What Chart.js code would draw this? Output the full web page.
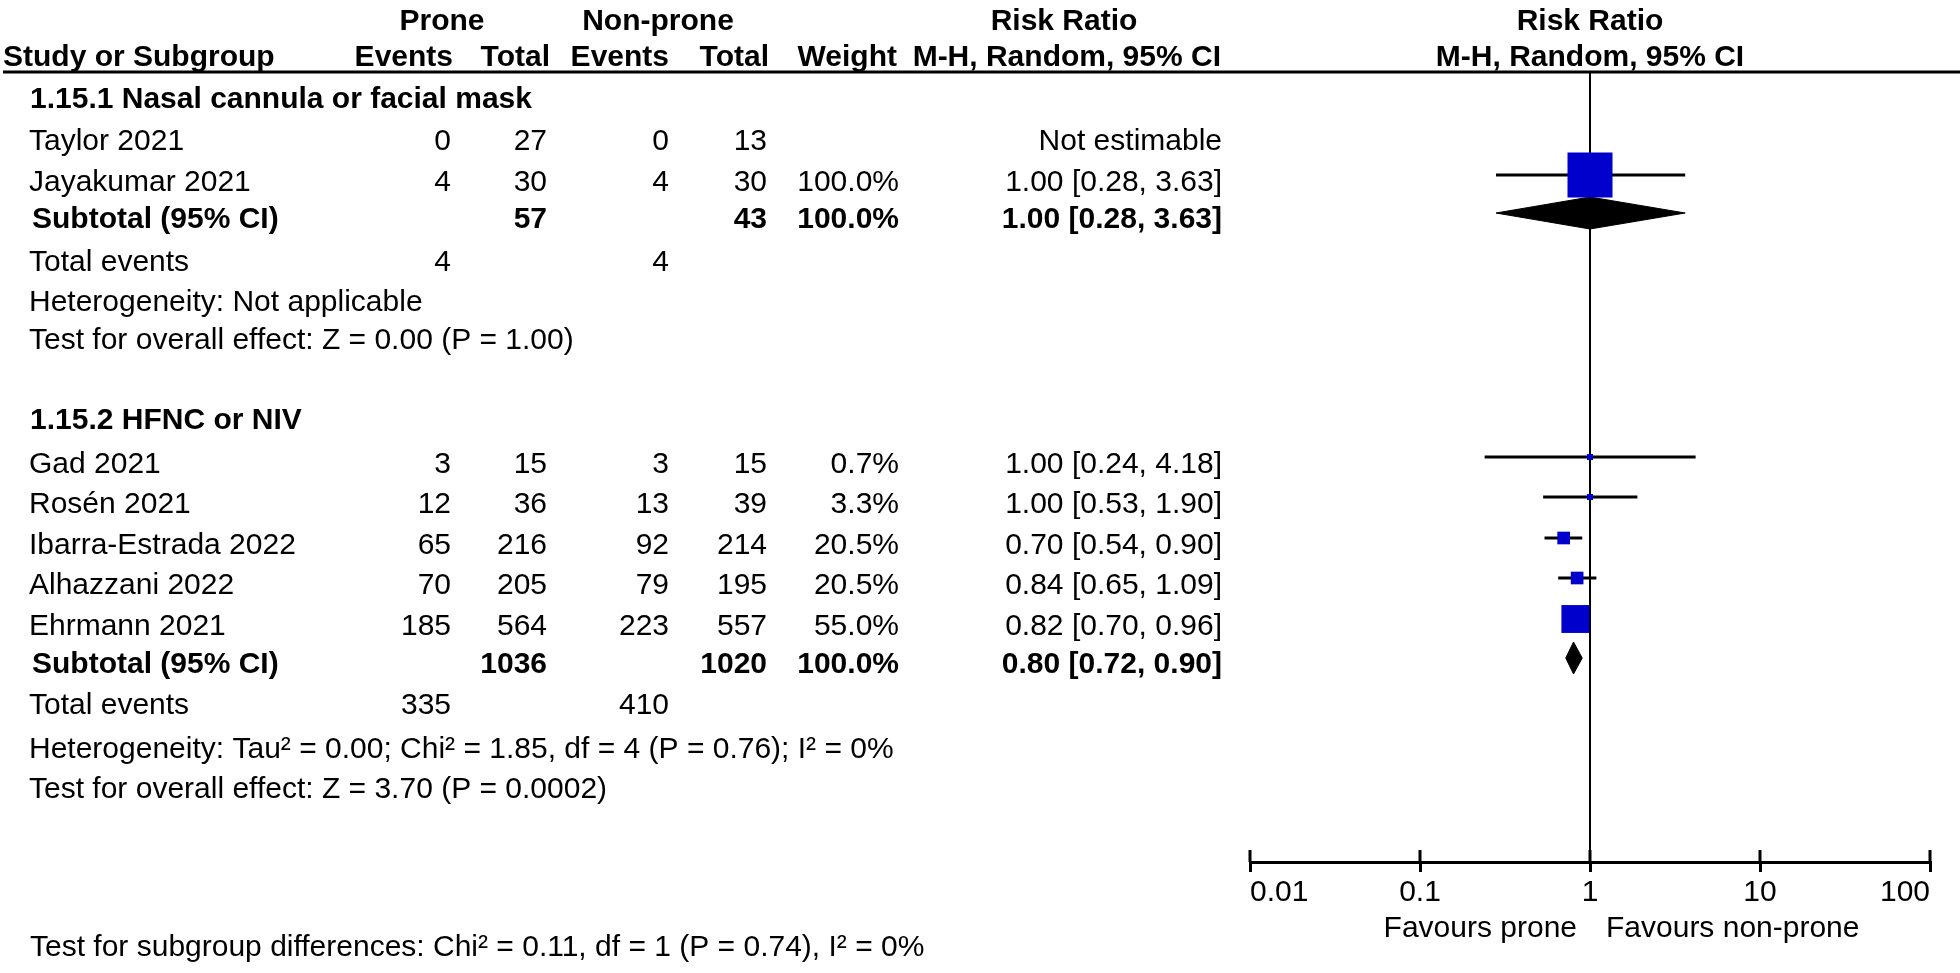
<!DOCTYPE html>
<html>
<head>
<meta charset="utf-8">
<script src="https://cdn.jsdelivr.net/npm/chart.js@4.4.1/dist/chart.umd.min.js"></script>
<style>
  html, body { margin: 0; padding: 0; background: #fff; overflow: hidden; }
  canvas { display: block; }
</style>
</head>
<body>
<canvas id="c" width="1960" height="973"></canvas>
<script>
// ---------------- DATA ----------------
const subgroupNames = ["1.15.1 Nasal cannula or facial mask", "1.15.2 HFNC or NIV"];
const studies = ["Taylor 2021", "Jayakumar 2021", "Gad 2021", "Rosén 2021", "Ibarra-Estrada 2022", "Alhazzani 2022", "Ehrmann 2021"];
const studyGroup = [0, 0, 1, 1, 1, 1, 1];
const proneEvents = [0, 4, 3, 12, 65, 70, 185];
const proneTotal = [27, 30, 15, 36, 216, 205, 564];
const nonProneEvents = [0, 4, 3, 13, 92, 79, 223];
const nonProneTotal = [13, 30, 15, 39, 214, 195, 557];
const weights = [null, 100.0, 0.7, 3.3, 20.5, 20.5, 55.0];
const riskRatio = [null, 1.00, 1.00, 1.00, 0.70, 0.84, 0.82];
const ciLow = [null, 0.28, 0.24, 0.53, 0.54, 0.65, 0.70];
const ciHigh = [null, 3.63, 4.18, 1.90, 0.90, 1.09, 0.96];

const subTotalProne = [57, 1036];
const subTotalNonProne = [43, 1020];
const subWeight = [100.0, 100.0];
const subRR = [1.00, 0.80];
const subLow = [0.28, 0.72];
const subHigh = [3.63, 0.90];
const totalEventsProne = [4, 335];
const totalEventsNonProne = [4, 410];
const heterogeneityText = ["Heterogeneity: Not applicable", "Heterogeneity: Tau² = 0.00; Chi² = 1.85, df = 4 (P = 0.76); I² = 0%"];
const overallEffectText = ["Test for overall effect: Z = 0.00 (P = 1.00)", "Test for overall effect: Z = 3.70 (P = 0.0002)"];
const subgroupTestText = "Test for subgroup differences: Chi² = 0.11, df = 1 (P = 0.74), I² = 0%";

const tickValues = [0.01, 0.1, 1, 10, 100];
const tickLabels = ["0.01", "0.1", "1", "10", "100"];
const favourLabels = ["Favours prone", "Favours non-prone"];
const nullEffect = 1;

// ---------------- LAYOUT (positions / styles) ----------------
const FONT = '"Liberation Sans", Arial, Helvetica, sans-serif';
const FS = 30;
const COL = { name: 29, heading: 30, sub: 32, pe: 451, pt: 547, ne: 669, nt: 767, w: 899, ci: 1222 };
const LAYOUT = {
  head1: 22, head2: 58, rule: 72,
  groups: [
    { heading: 100, studies: [142, 183], subtotal: 220, events: 263, het: 303, eff: 341 },
    { heading: 421, studies: [465, 505, 546, 586, 627], subtotal: 665, events: 706, het: 750, eff: 790 }
  ],
  subgroupTest: 948, favours: 929, markShift: -8, diamondShift: -7, axisY: 862
};
const BLUE = '#0000CC';

const studyRowY = [];
{
  const cnt = [0, 0];
  studies.forEach((s, i) => {
    const g = studyGroup[i];
    studyRowY.push(LAYOUT.groups[g].studies[cnt[g]++]);
  });
}
const squareSide = w => Math.max(6, 45 * Math.pow(w / 100, 0.8));

// ---------------- DATASETS ----------------
const datasets = [];
datasets.push({
  type: 'line', order: 5,
  data: [{ x: nullEffect, y: LAYOUT.rule }, { x: nullEffect, y: LAYOUT.axisY }],
  borderColor: '#000', borderWidth: 2, pointRadius: 0, fill: false
});
studies.forEach((s, i) => {
  if (riskRatio[i] == null) return;
  const y = studyRowY[i] + LAYOUT.markShift;
  datasets.push({
    type: 'line', order: 3,
    data: [{ x: ciLow[i], y }, { x: ciHigh[i], y }],
    borderColor: '#000', borderWidth: 3, pointRadius: 0, fill: false
  });
});
subRR.forEach((r, g) => {
  const y = LAYOUT.groups[g].subtotal + LAYOUT.diamondShift;
  const h = 16;
  datasets.push({
    type: 'line', order: 1,
    data: [{ x: subLow[g], y }, { x: r, y: y - h }, { x: subHigh[g], y }, { x: r, y: y + h }, { x: subLow[g], y }],
    borderColor: '#000', borderWidth: 1, backgroundColor: '#000', pointRadius: 0, fill: 'shape', tension: 0
  });
});
{
  const pts = [], radii = [];
  studies.forEach((s, i) => {
    if (riskRatio[i] == null) return;
    pts.push({ x: riskRatio[i], y: studyRowY[i] + LAYOUT.markShift });
    radii.push(squareSide(weights[i]) / Math.SQRT2);
  });
  datasets.push({
    type: 'scatter', order: 0,
    data: pts, pointStyle: 'rect', pointRadius: radii, pointHoverRadius: radii,
    backgroundColor: BLUE, borderColor: BLUE, borderWidth: 0
  });
}

// ---------------- TEXT PLUGIN ----------------
function T(c, s, x, y, align, bold) {
  c.font = (bold ? 'bold ' : '') + FS + 'px ' + FONT;
  c.textAlign = align; c.textBaseline = 'middle';
  c.fillText(s, x, y);
}
const ciStr = (r, l, h) => `${r.toFixed(2)} [${l.toFixed(2)}, ${h.toFixed(2)}]`;

const forestPlugin = {
  id: 'forest',
  beforeDraw(chart) {
    const c = chart.ctx;
    c.save(); c.fillStyle = '#fff'; c.fillRect(0, 0, chart.width, chart.height);
    c.fillStyle = '#000';
    c.fillRect(3, LAYOUT.rule - 1.5, chart.width - 3, 3);
    c.restore();
  },
  afterDraw(chart) {
    const c = chart.ctx;
    const xs = chart.scales.x;
    const x1 = xs.getPixelForValue(nullEffect);
    c.save();
    c.fillStyle = '#000';
    T(c, 'Prone', 442, LAYOUT.head1, 'center', true);
    T(c, 'Non-prone', 658, LAYOUT.head1, 'center', true);
    T(c, 'Risk Ratio', 1064, LAYOUT.head1, 'center', true);
    T(c, 'Risk Ratio', x1, LAYOUT.head1, 'center', true);
    T(c, 'Study or Subgroup', 3, LAYOUT.head2, 'left', true);
    T(c, 'Events', 453, LAYOUT.head2, 'right', true);
    T(c, 'Total', 550, LAYOUT.head2, 'right', true);
    T(c, 'Events', 669, LAYOUT.head2, 'right', true);
    T(c, 'Total', 769, LAYOUT.head2, 'right', true);
    T(c, 'Weight', 897, LAYOUT.head2, 'right', true);
    T(c, 'M-H, Random, 95% CI', 1221, LAYOUT.head2, 'right', true);
    T(c, 'M-H, Random, 95% CI', x1, LAYOUT.head2, 'center', true);

    subgroupNames.forEach((name, g) => {
      const L = LAYOUT.groups[g];
      T(c, name, COL.heading, L.heading, 'left', true);
      T(c, 'Subtotal (95% CI)', COL.sub, L.subtotal, 'left', true);
      T(c, String(subTotalProne[g]), COL.pt, L.subtotal, 'right', true);
      T(c, String(subTotalNonProne[g]), COL.nt, L.subtotal, 'right', true);
      T(c, subWeight[g].toFixed(1) + '%', COL.w, L.subtotal, 'right', true);
      T(c, ciStr(subRR[g], subLow[g], subHigh[g]), COL.ci, L.subtotal, 'right', true);
      T(c, 'Total events', COL.name, L.events, 'left', false);
      T(c, String(totalEventsProne[g]), COL.pe, L.events, 'right', false);
      T(c, String(totalEventsNonProne[g]), COL.ne, L.events, 'right', false);
      T(c, heterogeneityText[g], COL.name, L.het, 'left', false);
      T(c, overallEffectText[g], COL.name, L.eff, 'left', false);
    });
    studies.forEach((s, i) => {
      const y = studyRowY[i];
      T(c, s, COL.name, y, 'left', false);
      T(c, String(proneEvents[i]), COL.pe, y, 'right', false);
      T(c, String(proneTotal[i]), COL.pt, y, 'right', false);
      T(c, String(nonProneEvents[i]), COL.ne, y, 'right', false);
      T(c, String(nonProneTotal[i]), COL.nt, y, 'right', false);
      if (weights[i] != null) T(c, weights[i].toFixed(1) + '%', COL.w, y, 'right', false);
      T(c, riskRatio[i] == null ? 'Not estimable' : ciStr(riskRatio[i], ciLow[i], ciHigh[i]), COL.ci, y, 'right', false);
    });

    tickValues.forEach(v => {
      const px = xs.getPixelForValue(v);
      c.fillRect(Math.round(px) - 1.5, xs.top - 12, 3, 12);
    });

    T(c, favourLabels[0], x1 - 13, LAYOUT.favours, 'right', false);
    T(c, favourLabels[1], x1 + 16, LAYOUT.favours, 'left', false);

    T(c, subgroupTestText, 30, LAYOUT.subgroupTest, 'left', false);
    c.restore();
  }
};

// ---------------- CHART ----------------
new Chart(document.getElementById('c').getContext('2d'), {
  type: 'scatter',
  data: { datasets },
  options: {
    responsive: false,
    animation: false,
    devicePixelRatio: 1,
    layout: { autoPadding: false, padding: { left: 1250, right: 30, top: 0, bottom: 0 } },
    plugins: { legend: { display: false }, tooltip: { enabled: false } },
    events: [],
    scales: {
      x: {
        type: 'logarithmic', min: 0.01, max: 100, position: 'bottom',
        afterBuildTicks: s => { s.ticks = tickValues.map(v => ({ value: v })); },
        afterFit: s => { s.height = 973 - LAYOUT.axisY; },
        grid: { drawOnChartArea: false, drawTicks: true, tickLength: 10, tickWidth: 3, tickColor: '#000', color: '#000', lineWidth: 3 },
        border: { display: true, color: '#000', width: 3 },
        ticks: {
          callback: (v, i) => tickLabels[i],
          font: { family: FONT, size: FS }, color: '#000',
          align: 'inner', padding: 3, maxRotation: 0, autoSkip: false
        }
      },
      y: { type: 'linear', min: 0, max: LAYOUT.axisY, reverse: true, display: false }
    }
  },
  plugins: [forestPlugin]
});
</script>
</body>
</html>
